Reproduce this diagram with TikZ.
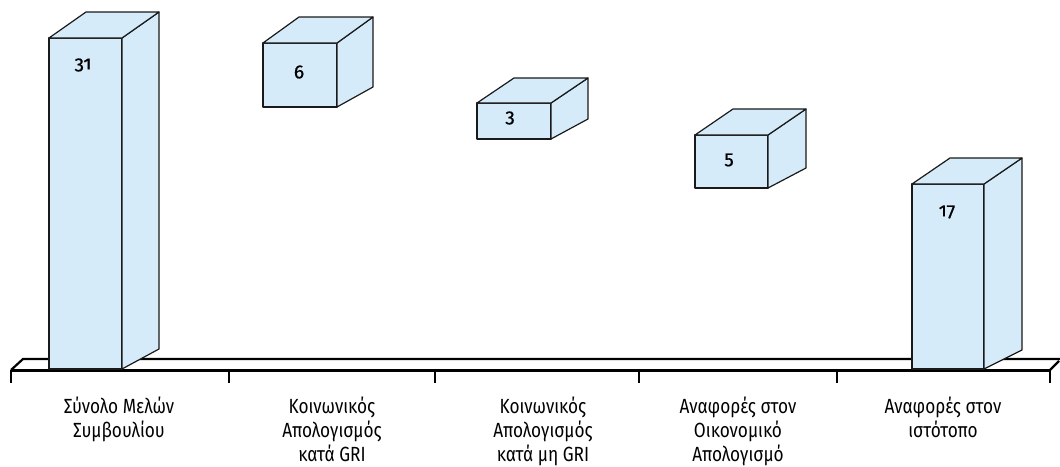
\documentclass[tikz,border=0pt]{standalone}
\usepackage{fontspec}
\setmainfont{Fira Sans}[FakeStretch=0.84]
\newfontfamily\numfont{Fira Sans}[Numbers=OldStyle,FakeBold=0.6]
\definecolor{barblue}{RGB}{214,235,249}
\definecolor{inkline}{RGB}{26,26,26}
\newcommand\cuboidbox[7]{%
  % #1 L, #2 R, #3 T, #4 B, #5 back top y, #6 back right x, #7 back bottom y
  \path[boxface] (#1,#3) rectangle (#2,#4);
  \path[boxface] (#2,#3) -- (#6,#5) -- (#6,#7) -- (#2,#4) -- cycle;
  \path[boxface] (#1,#3) -- ({#1+#6-#2},#5) -- (#6,#5) -- (#2,#3) -- cycle;
}
\begin{document}
\begin{tikzpicture}[x=1pt,y=-1pt,
  boxface/.style={fill=barblue,draw=inkline,line width=1.2pt,line join=round},
  floorline/.style={draw=black,line width=2.2pt},
  floorfront/.style={draw=black,line width=3pt},
  tickline/.style={draw=black,line width=2.2pt},
  catlabel/.style={align=center,inner sep=0pt,anchor=base,font=\fontsize{20.5}{24}\selectfont},
  vallabel/.style={inner sep=0pt,font=\numfont\fontsize{19}{20}\selectfont}]
\path[use as bounding box] (0,0) rectangle (1060,466);
% floor platform
\coordinate (fl) at (11,370);
\coordinate (fr) at (1050,370);
\coordinate (bl) at (23,359);
\coordinate (br) at (1060,359);
\draw[floorline] (fl) -- (bl) -- (br);
\draw[floorline] (fr) -- (1059,361);
\draw[floorfront] (fl) -- (fr);
% ticks
\foreach \x/\n in {11/t0,229/t1,435/t2,639/t3,837/t4,1050/t5}{
  \coordinate (\n) at (\x,370);
  \coordinate (\n b) at (\x,383);
  \draw[tickline] (\n) -- (\n b);
}
% bars
\cuboidbox{49}{122}{38}{369}{12}{159}{349}
\cuboidbox{263}{337}{43}{107}{17}{373}{87}
\cuboidbox{477}{551}{103}{139}{78}{588}{119}
\cuboidbox{695}{768}{135}{188}{109}{806}{168}
\cuboidbox{912}{984}{184}{369}{158}{1022}{350}
% values
\node[vallabel] (v1) at (83,65) {31};
\node[vallabel] (v2) at (299,72) {6};
\node[vallabel] (v3) at (510,118) {3};
\node[vallabel] (v4) at (729,160) {5};
\node[vallabel] (v5) at (947,212) {17};
% categories (base anchor = baseline of last line)
\node[catlabel] (c1) at (119,437) {Σύνολο Μελών\\Συμβουλίου};
\node[catlabel] (c2) at (332,461) {Κοινωνικός\\Απολογισμός\\κατά GRI};
\node[catlabel] (c3) at (543,461) {Κοινωνικός\\Απολογισμός\\κατά μη GRI};
\node[catlabel] (c4) at (738,461) {Αναφορές στον\\Οικονομικό\\Απολογισμό};
\node[catlabel] (c5) at (943,437) {Αναφορές στον\\ιστότοπο};
\end{tikzpicture}
\end{document}
